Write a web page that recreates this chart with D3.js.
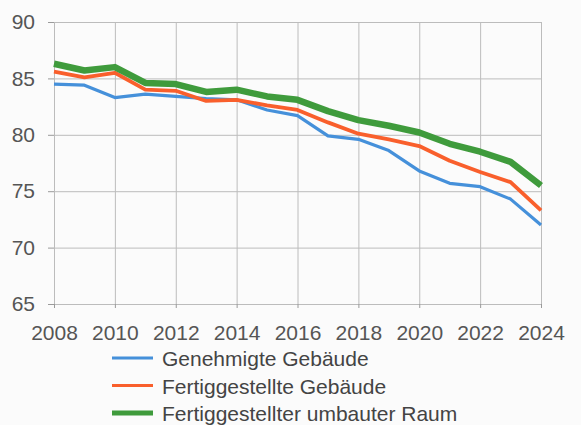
<!DOCTYPE html>
<html lang="de">
<head>
<meta charset="utf-8">
<title>Chart</title>
<script src="https://d3js.org/d3.v7.min.js"></script>
<style>
  body { margin: 0; background: #fbfbfb; }
  svg { display: block; font-family: "Liberation Sans", Arial, sans-serif; }
</style>
</head>
<body>
<div id="chart"></div>
<script>
// data
var years = [2008, 2009, 2010, 2011, 2012, 2013, 2014, 2015, 2016, 2017, 2018, 2019, 2020, 2021, 2022, 2023, 2024];
var genehmigt = [84.5, 84.4, 83.3, 83.6, 83.4, 83.2, 83.1, 82.2, 81.7, 79.9, 79.6, 78.6, 76.8, 75.7, 75.4, 74.3, 72.0];
var fertigGeb = [85.6, 85.1, 85.5, 84.0, 83.9, 83.0, 83.1, 82.6, 82.2, 81.1, 80.1, 79.6, 79.0, 77.7, 76.7, 75.8, 73.3];
var fertigRaum = [86.3, 85.7, 86.0, 84.6, 84.5, 83.8, 84.0, 83.4, 83.1, 82.1, 81.3, 80.8, 80.2, 79.2, 78.5, 77.6, 75.5];
var xTicks = [2008, 2010, 2012, 2014, 2016, 2018, 2020, 2022, 2024];
var yTicks = [65, 70, 75, 80, 85, 90];

var series = [
  {name: "Genehmigte Gebäude", values: genehmigt, color: "#4590da", width: 3.2},
  {name: "Fertiggestellte Gebäude", values: fertigGeb, color: "#f95f2c", width: 3.8},
  {name: "Fertiggestellter umbauter Raum", values: fertigRaum, color: "#3f9b3c", width: 6.5}
];

var W = 581, H = 425;
var margin = {top: 22, right: 40, bottom: 121, left: 54},
    width = W - margin.left - margin.right,
    height = H - margin.top - margin.bottom;

var svg = d3.select("#chart").append("svg")
    .attr("width", W)
    .attr("height", H);

var g = svg.append("g")
    .attr("transform", "translate(" + margin.left + "," + margin.top + ")");

var x = d3.scaleLinear().domain([2008, 2024]).range([0, width]);
var y = d3.scaleLinear().domain([65, 90]).range([height, 0]);

// grid lines
g.append("g")
    .attr("class", "grid")
    .call(d3.axisLeft(y).tickValues(yTicks).tickSize(-width).tickFormat(""))
    .call(function(s) { s.select(".domain").remove(); });
g.append("g")
    .attr("class", "grid")
    .attr("transform", "translate(0," + height + ")")
    .call(d3.axisBottom(x).tickValues(xTicks).tickSize(-height).tickFormat(""))
    .call(function(s) { s.select(".domain").remove(); });
g.selectAll(".grid line").attr("stroke", "#bcbcbc").attr("stroke-width", 1);

// axes with labels
var yAxis = g.append("g")
    .call(d3.axisLeft(y).tickValues(yTicks).tickSize(6).tickPadding(13));
var xAxis = g.append("g")
    .attr("transform", "translate(0," + height + ")")
    .call(d3.axisBottom(x).tickValues(xTicks).tickSize(4).tickPadding(17).tickFormat(d3.format("d")));
[yAxis, xAxis].forEach(function(a) {
  a.select(".domain").remove();
  a.selectAll("line").attr("stroke", "#9a9a9a");
  a.selectAll("text").attr("font-size", 21).attr("fill", "#555")
    .attr("font-family", "Liberation Sans, Arial, sans-serif");
});

// lines
var line = d3.line()
    .x(function(d, i) { return x(years[i]); })
    .y(function(d) { return y(d); });

series.forEach(function(s) {
  g.append("path")
    .datum(s.values)
    .attr("fill", "none")
    .attr("stroke", s.color)
    .attr("stroke-width", s.width)
    .attr("stroke-linejoin", "round")
    .attr("d", line);
});

// legend
var legend = svg.append("g").attr("transform", "translate(112,358)");
series.forEach(function(s, i) {
  var row = legend.append("g").attr("transform", "translate(0," + (i * 27.5) + ")");
  row.append("line")
    .attr("x1", 0).attr("x2", 41)
    .attr("stroke", s.color)
    .attr("stroke-width", i == 2 ? 5 : 3);
  row.append("text")
    .attr("x", 50)
    .attr("y", 8)
    .attr("font-size", 21)
    .attr("fill", "#444")
    .text(s.name);
});
</script>
</body>
</html>
